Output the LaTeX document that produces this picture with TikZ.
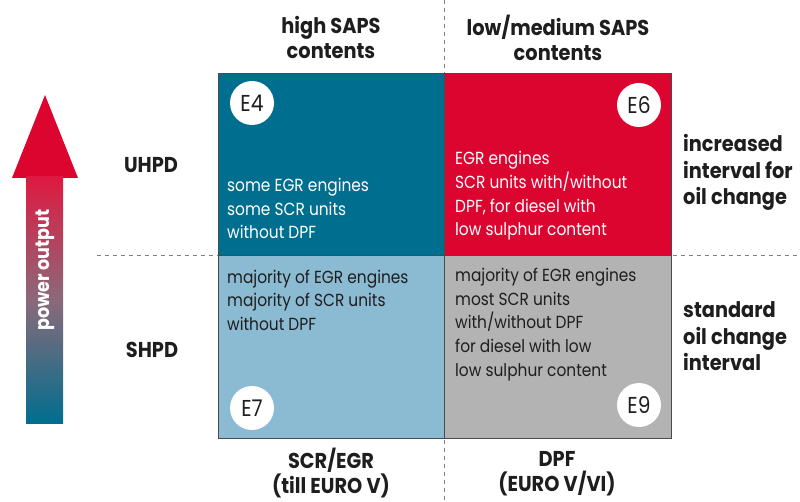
\documentclass[tikz,border=0pt]{standalone}
\usepackage{fontspec}
\setmainfont{Poppins}
\newfontfamily\bodyfont{Poppins}[FakeStretch=0.88]
\newfontfamily\labfont{Poppins}[FakeStretch=0.9]
\usetikzlibrary{shadings}
\definecolor{tealc}{HTML}{006E8F}
\definecolor{redc}{HTML}{DC0530}
\definecolor{lblue}{HTML}{8BBAD3}
\definecolor{greyc}{HTML}{B3B3B3}
\definecolor{edge}{HTML}{4A4A4A}
\definecolor{txt}{HTML}{1E1E1E}
\definecolor{dashc}{HTML}{808080}
\definecolor{mauve}{HTML}{8A6A7A}
\tikzset{
  cell/.style={draw=edge, line width=0.8pt},
  celltext/.style={anchor=west, align=left, inner sep=0pt, font=\bodyfont\fontsize{17.5}{23.6}\selectfont},
  badge/.style={circle, fill=white, minimum size=44pt, inner sep=0pt, text=txt, font=\bodyfont\fontsize{23}{23}\selectfont},
  axislabel/.style={align=center, inner sep=0pt, text=txt, font=\labfont\bfseries\fontsize{21.5}{25}\selectfont},
  sidelabel/.style={anchor=west, align=left, inner sep=0pt, text=txt, font=\labfont\bfseries\fontsize{21.5}{26.5}\selectfont},
  guide/.style={draw=dashc, dash pattern=on 4pt off 4pt, line width=0.7pt}
}
\begin{document}
\begin{tikzpicture}[x=1pt,y=-1pt]
\useasboundingbox (0,0) rectangle (800,502);
% dashed guides
\coordinate (vt) at (444,0);
\coordinate (vb) at (444,502);
\coordinate (hl) at (97,255);
\coordinate (hr) at (800,255);
\draw[guide] (vt) -- (vb);
\draw[guide] (hl) -- (hr);
% cells
\path[cell, fill=tealc] (218,73) rectangle (444,255) node[pos=0.5] (c4) {};
\path[cell, fill=redc] (444,73) rectangle (671,255) node[pos=0.5] (c6) {};
\path[cell, fill=lblue] (218,255) rectangle (444,438) node[pos=0.5] (c7) {};
\path[cell, fill=greyc] (444,255) rectangle (671,438) node[pos=0.5] (c9) {};
% badges
\node[badge] (e4) at (252,103) {E4};
\node[badge] (e6) at (639,105) {E6};
\node[badge] (e7) at (252,408) {E7};
\node[badge] (e9) at (639,405) {E9};
% cell texts
\node[celltext, text=white] (t4) at (227,208.5) {some EGR engines\\some SCR units\\without DPF};
\node[celltext, text=white] (t6) at (455,196) {EGR engines\\SCR units with/without\\DPF, for diesel with\\low sulphur content};
\node[celltext, text=txt] (t7) at (227,300) {majority of EGR engines\\majority of SCR units\\without DPF};
\node[celltext, text=txt] (t9) at (455,324.5) {majority of EGR engines\\most SCR units\\with/without DPF\\for diesel with low\\low sulphur content};
% axis labels
\node[axislabel] (top1) at (331,37.5) {high SAPS\\contents};
\node[axislabel] (top2) at (558,37.5) {low/medium SAPS\\contents};
\node[axislabel] (bot1) at (331,473.5) {SCR/EGR\\(till EURO V)};
\node[axislabel] (bot2) at (557,473.5) {DPF\\(EURO V/VI)};
\node[axislabel] (uhpd) at (151,165) {UHPD};
\node[axislabel] (shpd) at (152,350) {SHPD};
\node[sidelabel] (r1) at (683,172.5) {increased\\interval for\\oil change};
\node[sidelabel] (r2) at (683,336.5) {standard\\oil change\\interval};
% power arrow
\fill[redc] (12,178) -- (45,95) -- (78,178) -- cycle;
\shade[top color=redc!92!white, bottom color=tealc, middle color=mauve]
  (26,423) -- (26,177) -- (63,177) -- (63,423) -- cycle;
\node[rotate=90, text=white, inner sep=0pt, font=\labfont\bfseries\fontsize{19.5}{19.5}\selectfont] (pw) at (45,270) {power output};
\end{tikzpicture}
\end{document}
